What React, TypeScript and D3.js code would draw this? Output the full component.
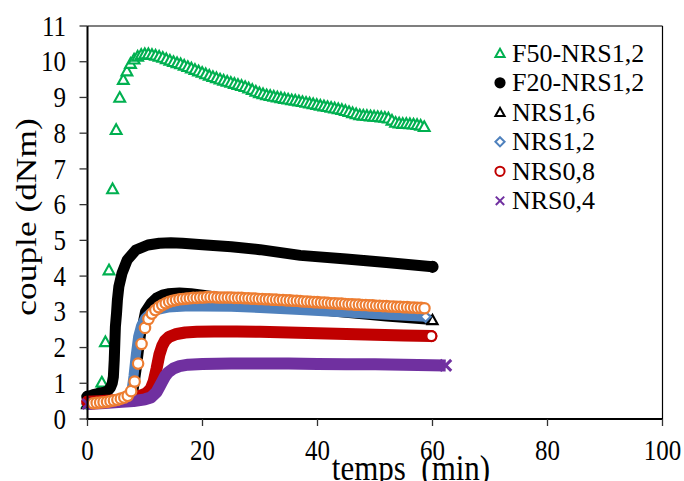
import React from "react";
import * as d3 from "d3";

const W = 684;
const H = 481;

const X_TICKS = [0, 20, 40, 60, 80, 100];
const Y_TICKS = [0, 1, 2, 3, 4, 5, 6, 7, 8, 9, 10, 11];

// F50-NRS1,2 : open green triangles, regular sampling
const F50_T0 = 0;
const F50_STEP = 0.623;
const F50_V = [
  0.45, 0.5, 0.6, 0.75, 1.03, 2.16, 4.17, 6.44, 8.1, 9.0, 9.5, 9.74, 9.95, 10.07, 10.15, 10.2,
  10.22, 10.22, 10.2, 10.18, 10.15, 10.12, 10.08, 10.04, 10.0, 9.97, 9.94, 9.9, 9.86, 9.82, 9.78,
  9.74, 9.7, 9.66, 9.62, 9.58, 9.55, 9.51, 9.48, 9.45, 9.42, 9.39, 9.36, 9.33, 9.3, 9.26, 9.22,
  9.17, 9.13, 9.1, 9.07, 9.05, 9.03, 9.01, 8.99, 8.97, 8.95, 8.93, 8.92, 8.9, 8.88, 8.86, 8.84,
  8.82, 8.8, 8.78, 8.76, 8.74, 8.72, 8.7, 8.68, 8.66, 8.63, 8.6, 8.57, 8.54, 8.51, 8.5, 8.49,
  8.48, 8.47, 8.46, 8.45, 8.44, 8.42, 8.36, 8.3, 8.28, 8.27, 8.27, 8.26, 8.25, 8.24, 8.22, 8.18,
];

// F20-NRS1,2 : filled black circles
const F20_T = [0, 1, 2, 3, 3.6, 4.0, 4.3, 4.5, 4.65, 4.75, 4.85, 5.05, 5.2, 5.45, 6.0, 6.9, 8.4, 10.5, 12.5, 14.5, 16.5, 20, 25, 30, 37, 45, 52, 60];
const F20_V = [0.62, 0.68, 0.72, 0.75, 0.8, 0.88, 1.0, 1.18, 1.65, 2.12, 2.58, 2.96, 3.33, 3.7, 4.08, 4.45, 4.73, 4.87, 4.92, 4.93, 4.92, 4.88, 4.82, 4.74, 4.58, 4.48, 4.38, 4.26];

// NRS1,6 : open black triangles
const N16_T = [0, 2, 4, 6, 7, 7.5, 8, 8.5, 9, 9.5, 10, 11, 12, 13, 14, 16, 18, 20, 22.5, 25, 30, 37, 45, 52, 60];
const N16_V = [0.42, 0.45, 0.48, 0.5, 0.52, 0.55, 0.8, 1.35, 2.0, 2.6, 3.0, 3.25, 3.4, 3.48, 3.52, 3.54, 3.52, 3.48, 3.42, 3.36, 3.25, 3.1, 2.97, 2.87, 2.77];

// NRS1,2 : open blue diamonds
const N12_T = [0, 2, 4, 6, 7, 7.5, 8, 8.4, 8.8, 9.3, 10, 11, 12, 14, 17, 20, 25, 30, 37, 45, 52, 58.8];
const N12_V = [0.42, 0.44, 0.46, 0.48, 0.5, 0.62, 1.2, 1.8, 2.3, 2.6, 2.82, 2.97, 3.05, 3.12, 3.15, 3.15, 3.14, 3.11, 3.05, 2.98, 2.92, 2.86];

// NRS0,8 : open red circles
const N08_T = [0, 2, 4, 6, 8, 9, 10, 10.5, 11, 11.5, 12, 12.5, 13, 13.5, 14.2, 15.5, 17, 19, 22, 26, 30, 35, 40, 45, 50, 55, 59.8];
const N08_V = [0.48, 0.5, 0.52, 0.55, 0.6, 0.64, 0.7, 0.76, 0.85, 1.05, 1.4, 1.8, 2.05, 2.2, 2.3, 2.38, 2.42, 2.44, 2.45, 2.45, 2.44, 2.42, 2.4, 2.38, 2.36, 2.34, 2.32];

// NRS0,4 : purple crosses
const N04_T = [0, 3, 6, 8, 10, 11, 12, 12.5, 13, 13.5, 14, 15, 16, 17.5, 20, 25, 30, 35, 40, 45, 50, 55, 62.3];
const N04_V = [0.42, 0.45, 0.48, 0.5, 0.55, 0.6, 0.75, 0.9, 1.05, 1.2, 1.3, 1.42, 1.48, 1.52, 1.54, 1.55, 1.55, 1.55, 1.54, 1.53, 1.53, 1.52, 1.5];

// unlabelled orange series : open orange circles, regular sampling
const ORG_T0 = 1.0;
const ORG_STEP = 0.6;
const ORG_V = [
  0.44, 0.45, 0.46, 0.47, 0.48, 0.5, 0.52, 0.54, 0.57, 0.6, 0.65, 0.78, 1.05, 1.55, 2.1, 2.55, 2.8,
  2.95, 3.05, 3.13, 3.19, 3.24, 3.28, 3.31, 3.33, 3.35, 3.36, 3.37, 3.38, 3.39, 3.39, 3.4, 3.4,
  3.41, 3.41, 3.41, 3.4, 3.4, 3.4, 3.4, 3.4, 3.39, 3.39, 3.39, 3.38, 3.38, 3.37, 3.37, 3.36, 3.36,
  3.35, 3.35, 3.34, 3.34, 3.33, 3.33, 3.32, 3.32, 3.31, 3.31, 3.3, 3.29, 3.29, 3.28, 3.27, 3.27,
  3.26, 3.26, 3.25, 3.24, 3.24, 3.23, 3.23, 3.22, 3.21, 3.21, 3.2, 3.2, 3.19, 3.19, 3.18, 3.18,
  3.17, 3.17, 3.16, 3.16, 3.15, 3.15, 3.14, 3.14, 3.13, 3.13, 3.12, 3.12, 3.11, 3.11, 3.1,
];

const LEGEND_LABELS = ["F50-NRS1,2", "F20-NRS1,2", "NRS1,6", "NRS1,2", "NRS0,8", "NRS0,4"];

const GREEN = "#00B050";
const BLACK = "#000000";
const BLUE = "#4F81BD";
const RED = "#C00000";
const PURPLE = "#7030A0";
const ORANGE = "#ED7D31";

const FONT = "Liberation Serif, Times New Roman, Times, serif";
const TXT = { fontFamily: FONT } as React.CSSProperties;

type Shape = "tri" | "circle" | "diamond" | "x";

function markerPath(shape: Shape, s: number): string {
  if (shape === "tri") return `M0,${-s} L${s},${s * 0.8} L${-s},${s * 0.8} Z`;
  if (shape === "diamond") return `M0,${-s} L${s},0 L0,${s} L${-s},0 Z`;
  if (shape === "x") return `M${-s},${-s} L${s},${s} M${-s},${s} L${s},${-s}`;
  return `M${s},0 A${s},${s} 0 1,1 ${-s},0 A${s},${s} 0 1,1 ${s},0 Z`;
}

function Marker({ shape, x, y, color, s, fill, sw }: { shape: Shape; x: number; y: number; color: string; s: number; fill: string; sw: number }) {
  return (
    <path
      d={markerPath(shape, s)}
      transform={`translate(${x},${y})`}
      fill={shape === "x" ? "none" : fill}
      stroke={color}
      strokeWidth={sw}
      strokeLinejoin="miter"
    />
  );
}

export default function App() {
  const x = d3.scaleLinear().domain([0, 100]).range([87.5, 662.5]);
  const y = d3.scaleLinear().domain([0, 11]).range([419, 26]);
  const line = d3
    .line<[number, number]>()
    .x((d) => x(d[0]))
    .y((d) => y(d[1]));

  const pairs = (ts: number[], vs: number[]) => vs.map((v, i) => [ts[i], v] as [number, number]);
  const regular = (t0: number, step: number, vs: number[]) => vs.map((v, i) => [t0 + i * step, v] as [number, number]);

  const f50 = regular(F50_T0, F50_STEP, F50_V);
  const org = regular(ORG_T0, ORG_STEP, ORG_V);

  const bands = [
    { pts: pairs(F20_T, F20_V), color: BLACK, w: 11, shape: "circle" as Shape, cap: "round", endFill: BLACK },
    { pts: pairs(N16_T, N16_V), color: BLACK, w: 10, shape: "tri" as Shape, cap: "butt", endFill: "#fff" },
    { pts: pairs(N12_T, N12_V), color: BLUE, w: 10, shape: "diamond" as Shape, cap: "butt", endFill: "#fff" },
    { pts: pairs(N08_T, N08_V), color: RED, w: 12, shape: "circle" as Shape, cap: "round", endFill: "#fff" },
    { pts: pairs(N04_T, N04_V), color: PURPLE, w: 12, shape: "x" as Shape, cap: "butt", endFill: "none" },
  ];

  const legend = [
    { shape: "tri" as Shape, color: GREEN, fill: "#fff" },
    { shape: "circle" as Shape, color: BLACK, fill: BLACK },
    { shape: "tri" as Shape, color: BLACK, fill: "#fff" },
    { shape: "diamond" as Shape, color: BLUE, fill: "#fff" },
    { shape: "circle" as Shape, color: RED, fill: "#fff" },
    { shape: "x" as Shape, color: PURPLE, fill: "none" },
  ];

  return (
    <svg width={W} height={H} style={{ position: "absolute", left: 0, top: 0, background: "#fff" }}>
      <rect x={0} y={0} width={W} height={H} fill="#fff" />
      {/* frame */}
      <line x1={x(0)} x2={x(100)} y1={y(11)} y2={y(11)} stroke="#000" strokeWidth={1.2} />
      <line x1={x(100)} x2={x(100)} y1={y(11)} y2={y(0)} stroke="#000" strokeWidth={1.2} />

      {/* green triangles */}
      {f50.map((d, i) => (
        <Marker key={`g${i}`} shape="tri" x={x(d[0])} y={y(d[1])} color={GREEN} s={5.4} fill="#fff" sw={2.1} />
      ))}

      {/* dense series drawn as marker bands */}
      {bands.map((b, k) => {
        const last = b.pts[b.pts.length - 1];
        const first = b.pts[0];
        return (
          <g key={`b${k}`}>
            <path d={line(b.pts) || ""} fill="none" stroke={b.color} strokeWidth={b.w} strokeLinejoin="round" strokeLinecap={b.cap as any} />
            <Marker shape={b.shape} x={x(first[0])} y={y(first[1])} color={b.color} s={5} fill={b.color} sw={2.5} />
            <Marker shape={b.shape} x={x(last[0])} y={y(last[1])} color={b.color} s={b.shape === "x" ? 5.5 : 5} fill={b.endFill} sw={b.shape === "x" ? 3 : 2.2} />
          </g>
        );
      })}

      {/* orange open circles */}
      {org.map((d, i) => (
        <circle key={`o${i}`} cx={x(d[0])} cy={y(d[1])} r={5.2} fill="#fff" stroke={ORANGE} strokeWidth={2.2} />
      ))}

      {/* axes */}
      <line x1={x(0)} x2={x(0)} y1={y(11)} y2={y(0) + 1} stroke="#000" strokeWidth={2} />
      <line x1={x(0) - 1} x2={x(100)} y1={y(0)} y2={y(0)} stroke="#000" strokeWidth={2} />
      {Y_TICKS.map((t) => (
        <g key={`yt${t}`}>
          <line x1={x(0) - 8} x2={x(0)} y1={y(t)} y2={y(t)} stroke="#333" strokeWidth={1.3} />
          <text style={TXT} transform={`translate(66,${y(t)}) scale(1,1.15)`} textAnchor="end" dominantBaseline="central" fontSize={25} fill="#000">
            {t}
          </text>
        </g>
      ))}
      {X_TICKS.map((t) => (
        <g key={`xt${t}`}>
          <line x1={x(t)} x2={x(t)} y1={y(0)} y2={y(0) + 7} stroke="#333" strokeWidth={1.3} />
          <text style={TXT} transform={`translate(${x(t)},450) scale(1,1.15)`} textAnchor="middle" dominantBaseline="central" fontSize={25} fill="#000">
            {t}
          </text>
        </g>
      ))}

      {/* axis titles */}
      <text style={{ ...TXT, whiteSpace: "pre" }} transform={`translate(411,480) scale(1,1.15)`} textAnchor="middle" fontSize={31} fill="#000">
        {"temps  (min)"}
      </text>
      <text style={TXT} transform={`translate(36,217) scale(1,1.22) rotate(-90)`} textAnchor="middle" fontSize={29} fill="#000">
        couple (dNm)
      </text>

      {/* legend */}
      {LEGEND_LABELS.map((lab, i) => {
        const cy = 53.3 + i * 29.5;
        const m = legend[i];
        return (
          <g key={`lg${i}`}>
            <Marker shape={m.shape} x={500} y={cy} color={m.color} s={m.shape === "x" ? 4.2 : 4.6} fill={m.fill} sw={2} />
            <text style={TXT} x={512} y={cy} dominantBaseline="central" fontSize={26} fill="#000">
              {lab}
            </text>
          </g>
        );
      })}
    </svg>
  );
}
